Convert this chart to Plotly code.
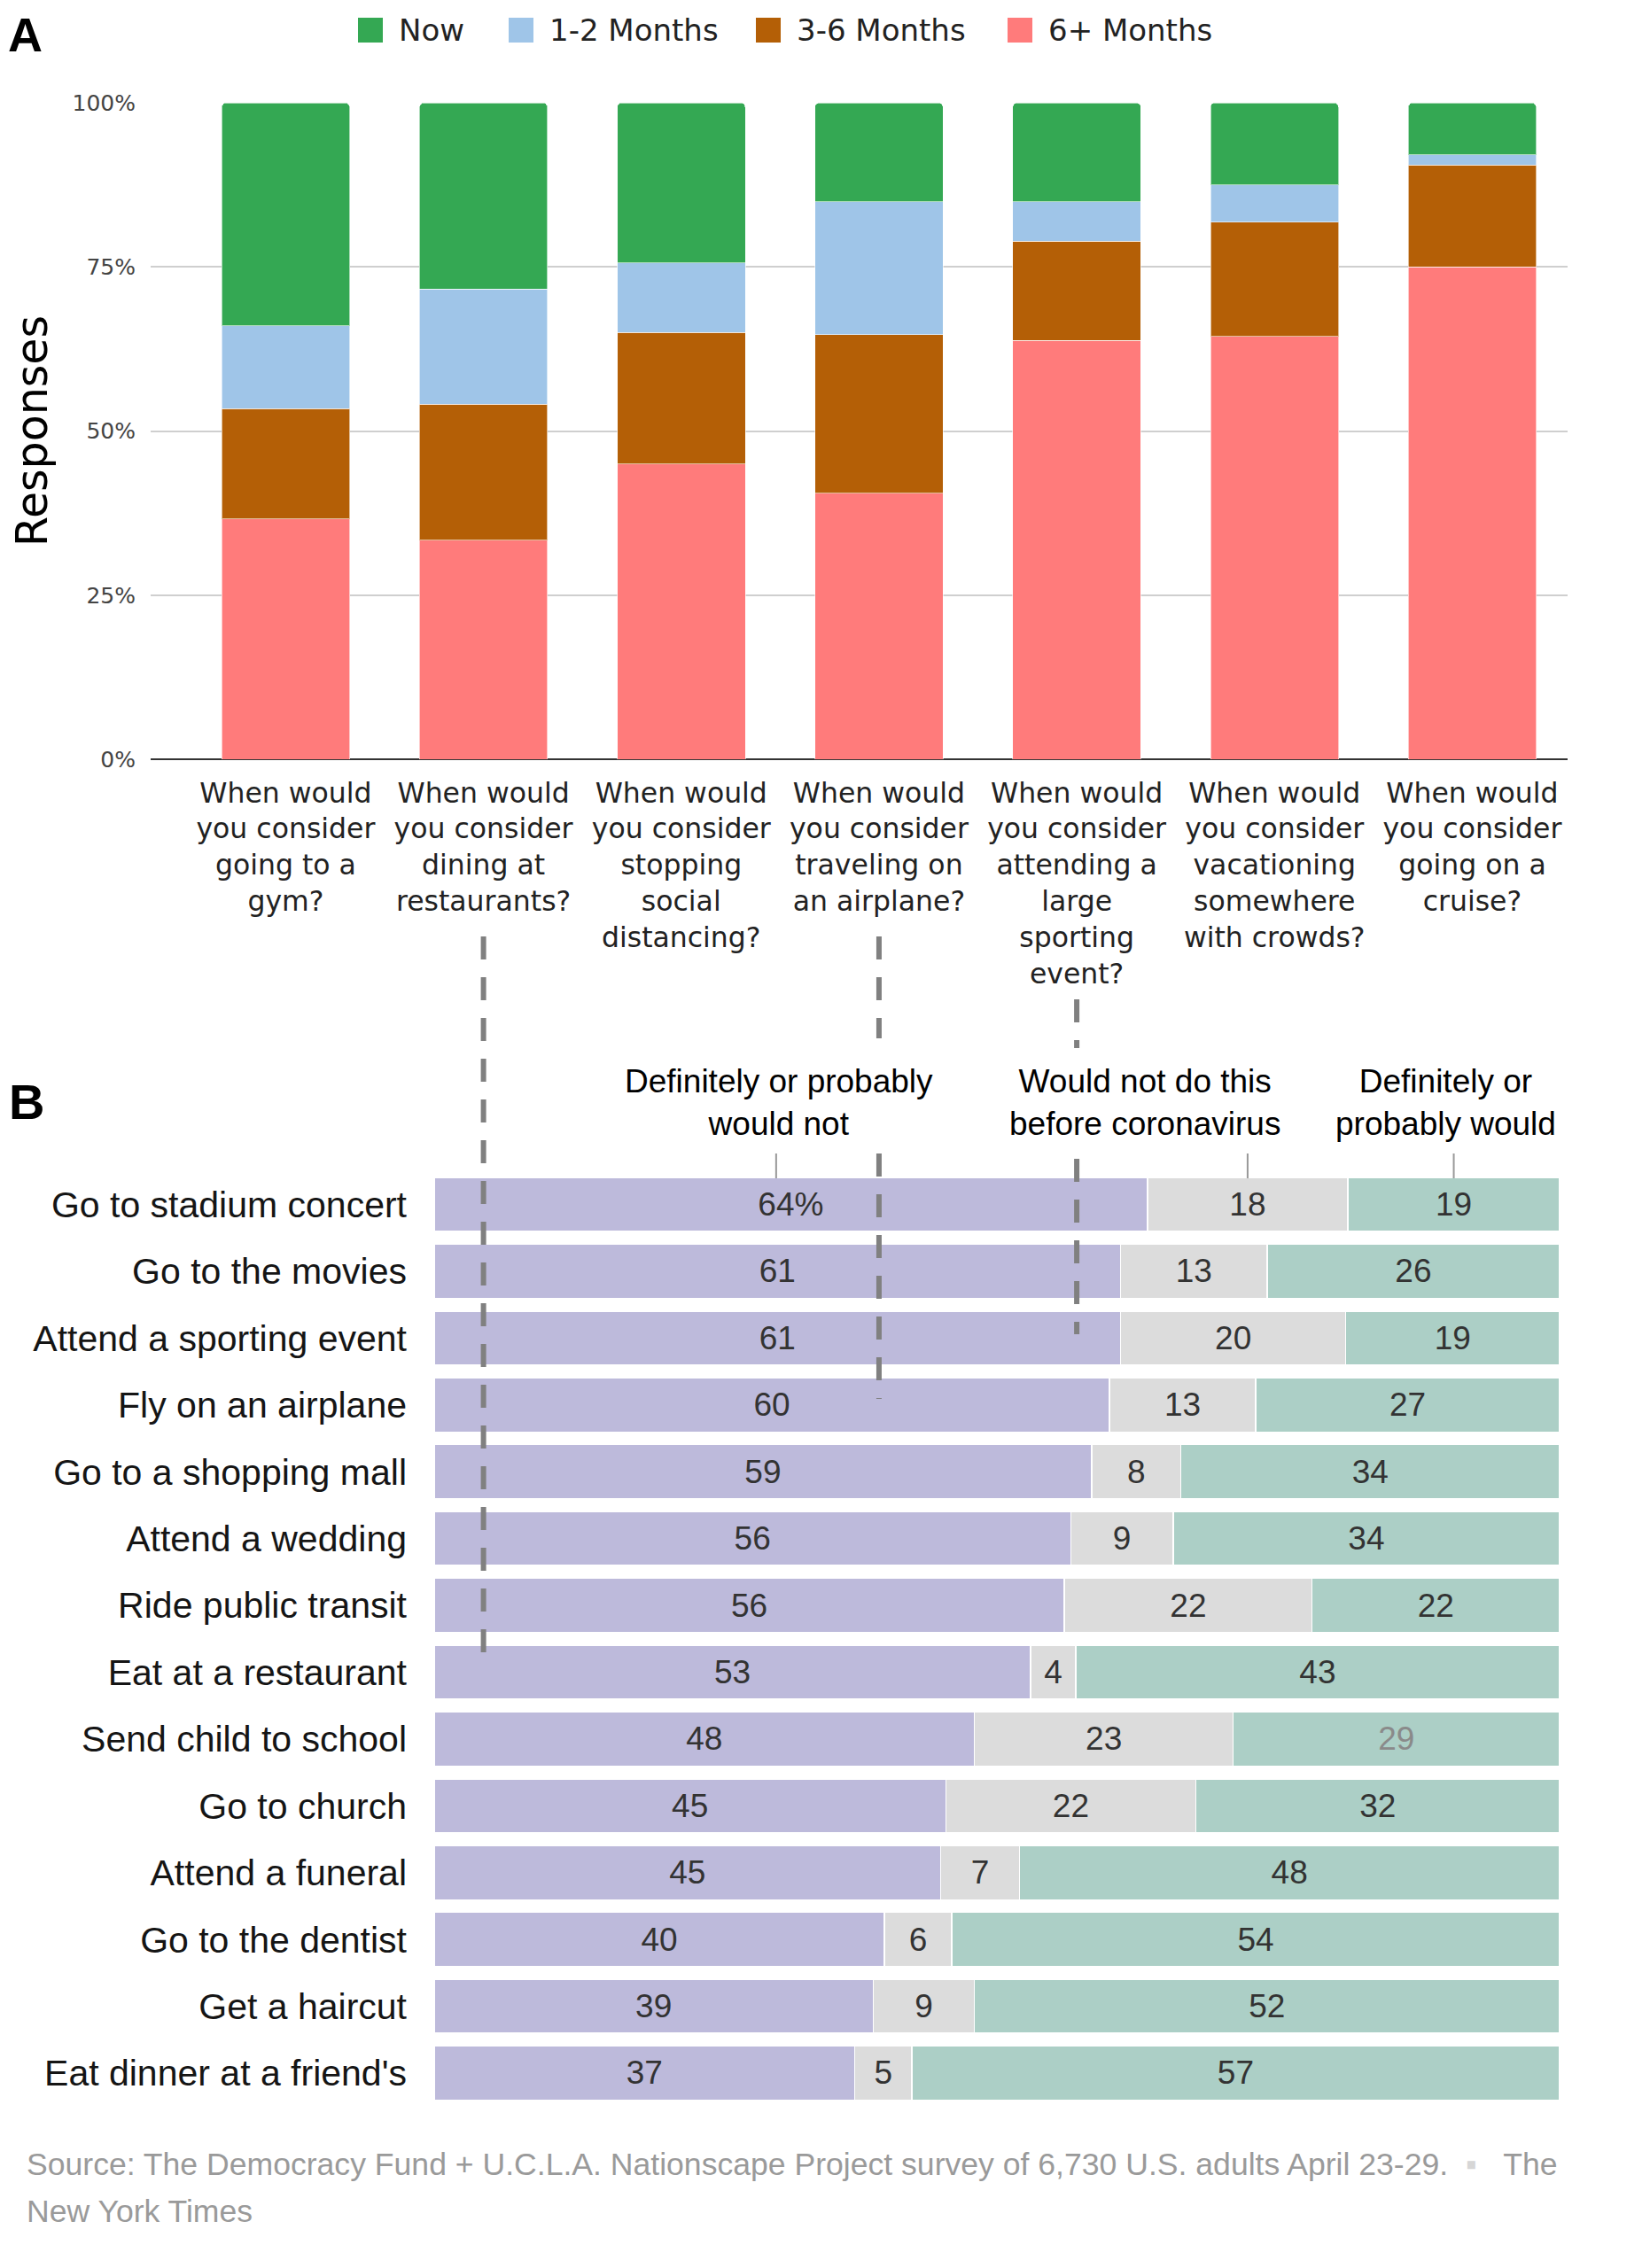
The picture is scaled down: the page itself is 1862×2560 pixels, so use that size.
import plotly.graph_objects as go

W, H = 1862, 2560
OFF = 8  # page body margin offset

# ---------------- Panel A data ----------------
questions = [
    "When would<br>you consider<br>going to a<br>gym?",
    "When would<br>you consider<br>dining at<br>restaurants?",
    "When would<br>you consider<br>stopping<br>social<br>distancing?",
    "When would<br>you consider<br>traveling on<br>an airplane?",
    "When would<br>you consider<br>attending a<br>large<br>sporting<br>event?",
    "When would<br>you consider<br>vacationing<br>somewhere<br>with crowds?",
    "When would<br>you consider<br>going on a<br>cruise?",
]
six_plus = [36.6, 33.4, 45.0, 40.5, 63.8, 64.4, 75.0]
three_six = [16.8, 20.7, 20.0, 24.2, 15.1, 17.4, 15.5]
one_two = [12.6, 17.5, 10.6, 20.2, 6.0, 5.7, 1.6]
now = [34.0, 28.4, 24.4, 15.1, 15.1, 12.5, 7.9]
y_ticks = [0, 25, 50, 75, 100]
y_tick_labels = ["0%", "25%", "50%", "75%", "100%"]
legend_names = ["Now", "1-2 Months", "3-6 Months", "6+ Months"]
legend_colors = ["#34A853", "#9FC5E8", "#B45F06", "#FF7B7B"]

# ---------------- Panel B data ----------------
activities = [
    "Go to stadium concert", "Go to the movies", "Attend a sporting event",
    "Fly on an airplane", "Go to a shopping mall", "Attend a wedding",
    "Ride public transit", "Eat at a restaurant", "Send child to school",
    "Go to church", "Attend a funeral", "Go to the dentist", "Get a haircut",
    "Eat dinner at a friend's",
]
would_not = [64, 61, 61, 60, 59, 56, 56, 53, 48, 45, 45, 40, 39, 37]
not_before = [18, 13, 20, 13, 8, 9, 22, 4, 23, 22, 7, 6, 9, 5]
would = [19, 26, 19, 27, 34, 34, 22, 43, 29, 32, 48, 54, 52, 57]

headers = ["Definitely or probably<br>would not",
           "Would not do this<br>before coronavirus",
           "Definitely or<br>probably would"]
source_line1 = ("Source: The Democracy Fund + U.C.L.A. Nationscape Project survey of "
                "6,730 U.S. adults April 23-29.&nbsp;&nbsp;<span style='color:#d6d6d6'>▪</span>&nbsp;&nbsp;&nbsp;The")
source_line2 = "New York Times"

FONT_A = "DejaVu Sans"
FONT_B = "Liberation Sans, Arial, sans-serif"


def px_y(p):
    return 1 - (p - OFF) / H


def px_x(p):
    return (p - OFF) / W


fig = go.Figure()

# Panel A stacked bars (bottom to top)
a_series = [("6+ Months", six_plus, "#FF7B7B"),
            ("3-6 Months", three_six, "#B45F06"),
            ("1-2 Months", one_two, "#9FC5E8"),
            ("Now", now, "#34A853")]
for name, vals, col in a_series:
    fig.add_trace(go.Bar(
        x=questions, y=vals, name=name,
        marker=dict(color=col, cornerradius=5,
                    line=dict(color="rgba(255,255,255,0.6)", width=1)),
        width=0.6475, xaxis="x", yaxis="y", showlegend=False,
        hoverinfo="skip"))

# Panel B stacked horizontal bars
text_wn = [f"{v}%" if i == 0 else str(v) for i, v in enumerate(would_not)]
would_colors = ["#8a8a8a" if a == "Send child to school" else "#333333" for a in activities]
for name, vals, col, txt, tcol in [
        ("Definitely or probably would not", would_not, "#BDBADB", text_wn, "#333333"),
        ("Would not do this before coronavirus", not_before, "#DCDCDC", [str(v) for v in not_before], "#333333"),
        ("Definitely or probably would", would, "#ACCFC6", [str(v) for v in would], would_colors)]:
    fig.add_trace(go.Bar(
        y=activities, x=vals, orientation="h", name=name, marker_color=col,
        marker_line=dict(color="white", width=1.5),
        width=0.81, text=txt, textposition="inside", insidetextanchor="middle",
        textangle=0, textfont=dict(family=FONT_B, size=37, color=tcol),
        xaxis="x2", yaxis="y2", showlegend=False, hoverinfo="skip"))

# tick marks under the panel-B headers at centers of first row segments
tot0 = would_not[0] + not_before[0] + would[0]
centers = [would_not[0] / 2 / tot0 * 100,
           (would_not[0] + not_before[0] / 2) / tot0 * 100,
           (would_not[0] + not_before[0] + would[0] / 2) / tot0 * 100]
centers[0] -= 1.3

shapes = []
for c in centers:
    shapes.append(dict(type="line", xref="x2", yref="paper", x0=c, x1=c,
                       y0=px_y(1302), y1=px_y(1330),
                       line=dict(color="#999999", width=2)))

# dashed connectors from panel A questions to panel B rows
# (interrupted where they pass behind the panel-B column headers)
connectors = [(1, [(1057, 1880)]),
              (3, [(1057, 1172), (1302, 1579)]),
              (4, [(1128, 1183), (1308, 1506)])]
for qi, segs in connectors:
    for y0, y1 in segs:
        shapes.append(dict(type="line", xref="x", yref="paper", x0=qi, x1=qi,
                           y0=px_y(y0), y1=px_y(y1),
                           line=dict(color="#808080", width=6, dash="26px,20px")))

annotations = [
    dict(text="<b>A</b>", x=0, y=1, xref="paper", yref="paper",
         xanchor="left", yanchor="top", showarrow=False, borderpad=0,
         font=dict(family="Liberation Sans, Arial", size=54, color="black")),
    dict(text="<b>B</b>", x=0, y=px_y(1243), xref="paper", yref="paper",
         xanchor="left", yanchor="middle", showarrow=False,
         font=dict(family="Liberation Sans, Arial", size=56, color="black")),
    dict(text=source_line1, x=px_x(28), y=px_y(2443), xref="paper", yref="paper",
         xanchor="left", yanchor="middle", align="left", showarrow=False,
         font=dict(family=FONT_B, size=35.6, color="#9a9a9a")),
    dict(text=source_line2, x=px_x(28), y=px_y(2496), xref="paper", yref="paper",
         xanchor="left", yanchor="middle", align="left", showarrow=False,
         font=dict(family=FONT_B, size=35.6, color="#9a9a9a")),
]
for htxt, hx in zip(headers, [879, 1292, 1631]):
    annotations.append(dict(text=htxt, x=px_x(hx), y=px_y(1244), xref="paper",
                            yref="paper", xanchor="center", yanchor="middle",
                            showarrow=False, align="center",
                            font=dict(family=FONT_B, size=37, color="black")))

# legend for panel A (swatches + labels)
legend_sq_x = [404, 574, 853, 1137]
for name, col, sx in zip(legend_names, legend_colors, legend_sq_x):
    shapes.append(dict(type="rect", xref="paper", yref="paper",
                       x0=px_x(sx), x1=px_x(sx + 28), y0=px_y(48), y1=px_y(20),
                       fillcolor=col, line=dict(width=0)))
    annotations.append(dict(text=name, x=px_x(sx + 44), y=px_y(34),
                            xref="paper", yref="paper", xanchor="left",
                            yanchor="middle", showarrow=False,
                            font=dict(family=FONT_A, size=34, color="#222222")))

fig.update_layout(
    width=W, height=H, autosize=False,
    margin=dict(l=0, r=0, t=0, b=0, autoexpand=False),
    paper_bgcolor="white", plot_bgcolor="white",
    barmode="stack", barnorm="percent",
    uniformtext=dict(minsize=37, mode="show"),
    showlegend=False,
    xaxis=dict(domain=[px_x(170), px_x(1769)], anchor="y",
               range=[-0.683, 6.482], showgrid=False, showline=False,
               ticks="", ticklabelstandoff=16,
               tickfont=dict(family=FONT_A, size=31.5, color="#222222"),
               fixedrange=True),
    yaxis=dict(domain=[px_y(857), px_y(116)], anchor="x", range=[0, 100],
               tickvals=y_ticks, ticktext=y_tick_labels,
               showgrid=True, gridcolor="#cfcfcf", gridwidth=2,
               zeroline=True, zerolinecolor="#333333", zerolinewidth=2,
               showline=False, ticks="", ticklabelstandoff=16,
               tickfont=dict(family=FONT_A, size=25, color="#444444"),
               title=dict(text="Responses", standoff=38,
                          font=dict(family=FONT_A, size=49, color="black"))),
    xaxis2=dict(domain=[px_x(490), px_x(1760)], anchor="y2", range=[0, 100],
                visible=False),
    yaxis2=dict(domain=[px_y(2377.7), px_y(1321.8)], anchor="x2",
                autorange="reversed", showgrid=False, showline=False,
                ticks="", ticklabelstandoff=30,
                tickfont=dict(family=FONT_B, size=41, color="#151515")),
    shapes=shapes,
    annotations=annotations,
)

fig.write_html("out.html")
